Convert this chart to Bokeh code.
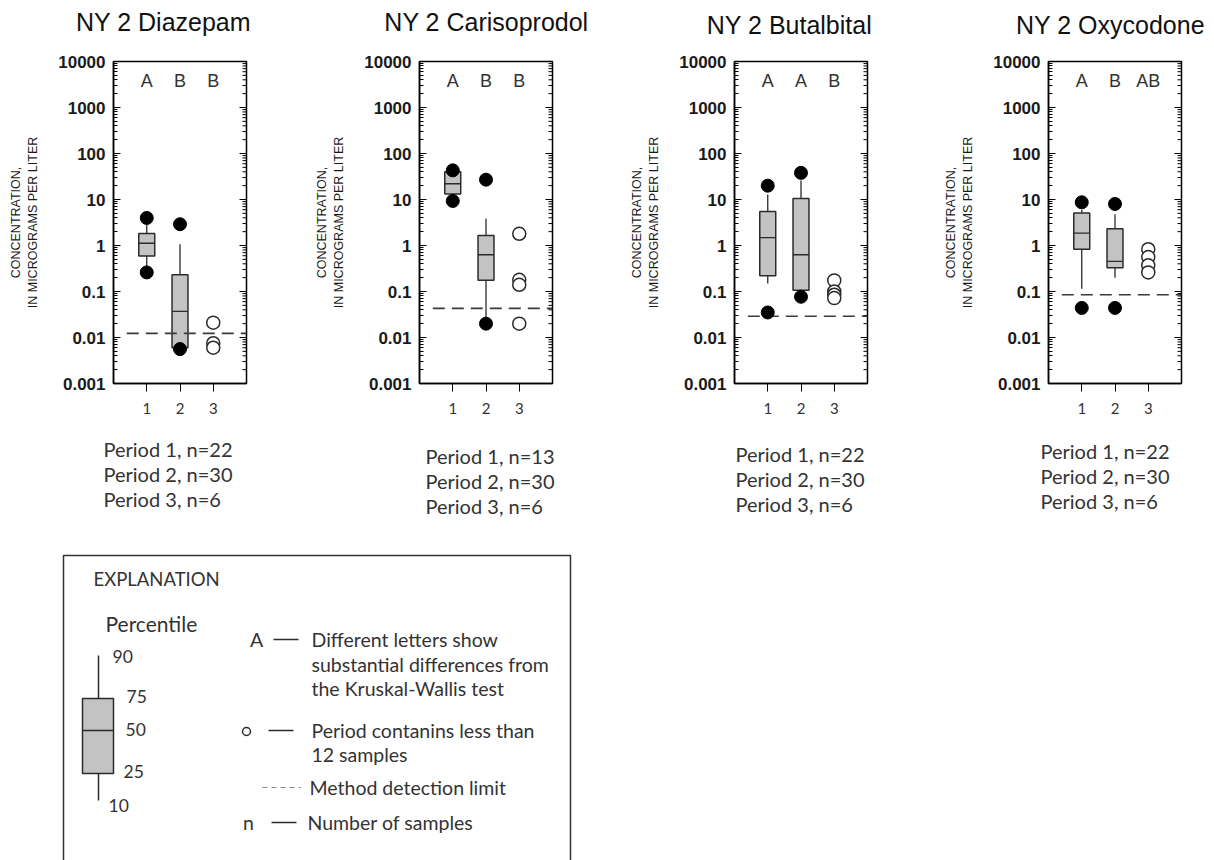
import math
from bokeh.plotting import figure
from bokeh.models import Range1d, FixedTicker
from bokeh.layouts import row, column
from bokeh.embed import file_html
from bokeh.resources import INLINE
from bokeh.core.properties import value

# ---------------------------------------------------------------- data
periods = [1, 2, 3]
titles = ["NY 2 Diazepam", "NY 2 Carisoprodol", "NY 2 Butalbital", "NY 2 Oxycodone"]
kw_letters = [["A", "B", "B"], ["A", "B", "B"], ["A", "A", "B"], ["A", "B", "AB"]]
n_samples = [[22, 30, 6], [13, 30, 6], [22, 30, 6], [22, 30, 6]]
mdl = [0.0123, 0.043, 0.029, 0.085]

# percentile statistics for periods 1 and 2
p10 = [[0.30, 0.0060], [10.5, 0.026], [0.15, 0.10], [0.115, 0.20]]
p25 = [[0.59, 0.0060], [13.2, 0.175], [0.22, 0.107], [0.83, 0.33]]
p50 = [[1.12, 0.037], [22.0, 0.63], [1.48, 0.63], [1.86, 0.45]]
p75 = [[1.82, 0.23], [40.0, 1.65], [5.5, 10.5], [5.1, 2.3]]
p90 = [[3.5, 1.07], [40.0, 3.8], [12.9, 26.0], [6.0, 4.8]]

# individual values beyond the 10th / 90th percentiles
outlier_period = [[1, 1, 2, 2], [1, 1, 2, 2], [1, 1, 2, 2], [1, 1, 2, 2]]
outlier_value = [[3.97, 0.26, 2.9, 0.0056], [43.0, 9.3, 27.0, 0.020],
                 [20.0, 0.035, 38.0, 0.077], [8.7, 0.044, 8.0, 0.044]]

# period 3 samples (fewer than 12)
period3_values = [[0.021, 0.0075, 0.006], [1.8, 0.18, 0.14, 0.020],
                  [0.174, 0.10, 0.085, 0.072], [0.83, 0.56, 0.37, 0.26]]

y_ticks = [0.001, 0.01, 0.1, 1, 10, 100, 1000, 10000]
y_tick_labels = ["0.001", "0.01", "0.1", "1", "10", "100", "1000", "10000"]

# ---------------------------------------------------------------- layout
HEAD_H = 40
ROW_H = 385
fig_w = [305, 315, 305, 289]
border_l = [113, 114, 114, 123]
border_t = [13, 17, 21, 19]
frame_h = [330, 330, 327, 328]
FRAME_W = 133
title_cx = [163, 486, 789, 1110]
title_cy = [21, 21, 24, 24]
note_x = [103, 425, 735, 1040]
note_y = [[448, 473, 498], [455, 480, 505], [453, 478, 503], [450, 475, 500]]

INK = "#2b2b2b"
BOX_FILL = "#c3c3c3"
minor = [m * 10.0 ** k for k in range(-3, 4) for m in range(2, 10)]


def make_panel(i):
    w, bl, bt, fh = fig_w[i], border_l[i], border_t[i], frame_h[i]
    br = w - bl - FRAME_W
    bb = ROW_H - bt - fh
    p = figure(width=w, height=ROW_H, x_range=Range1d(0, 4),
               y_range=Range1d(0.001, 10000), y_axis_type="log",
               output_backend="svg", toolbar_location=None,
               min_border_left=bl, min_border_right=br,
               min_border_top=bt, min_border_bottom=bb)
    p.grid.visible = False
    p.outline_line_color = "black"
    p.outline_line_width = 1.5

    ya = p.yaxis[0]
    ya.ticker = FixedTicker(ticks=y_ticks, minor_ticks=minor)
    ya.major_label_overrides = {t: s for t, s in zip(y_ticks, y_tick_labels)}
    ya.major_tick_in = 7
    ya.major_tick_out = 0
    ya.minor_tick_in = 4
    ya.minor_tick_out = 0
    ya.major_tick_line_color = "black"
    ya.minor_tick_line_color = "black"
    ya.axis_line_color = "black"
    ya.axis_line_width = 1.5
    ya.major_label_text_font = "Liberation Sans"
    ya.major_label_text_font_style = "bold"
    ya.major_label_text_font_size = "17px"
    ya.major_label_text_color = "#1a1a1a"
    ya.major_label_standoff = 8
    ya.axis_label = "CONCENTRATION,\nIN MICROGRAMS PER LITER"
    ya.axis_label_text_font = "Liberation Sans"
    ya.axis_label_text_font_style = "normal"
    ya.axis_label_text_font_size = "12.5px"
    ya.axis_label_text_color = "#1a1a1a"
    ya.axis_label_standoff = 15

    # inward tick marks along the right edge of the frame
    p.ray(x=[4] * len(y_ticks), y=y_ticks, length=7, length_units="screen",
          angle=math.pi, line_color="black", line_width=1)
    p.ray(x=[4] * len(minor), y=minor, length=4, length_units="screen",
          angle=math.pi, line_color="black", line_width=1)

    xa = p.xaxis[0]
    xa.ticker = FixedTicker(ticks=periods)
    xa.major_tick_in = 0
    xa.major_tick_out = 8
    xa.major_tick_line_color = "black"
    xa.minor_tick_line_color = None
    xa.axis_line_color = "black"
    xa.axis_line_width = 1.5
    xa.major_label_text_font = "Lato"
    xa.major_label_text_font_size = "15px"
    xa.major_label_text_color = "#333333"
    xa.major_label_standoff = 11

    xs = periods[:2]
    half = 0.24
    # whiskers
    p.segment(x0=xs, x1=xs, y0=p75[i], y1=p90[i], line_color=INK, line_width=1.3)
    p.segment(x0=xs, x1=xs, y0=p25[i], y1=p10[i], line_color=INK, line_width=1.3)
    # boxes
    p.vbar(x=xs, width=2 * half, bottom=p25[i], top=p75[i],
           fill_color=BOX_FILL, line_color=INK, line_width=1.5)
    p.segment(x0=[x - half for x in xs], x1=[x + half for x in xs],
              y0=p50[i], y1=p50[i], line_color=INK, line_width=1.3)
    # method detection limit
    p.line(x=[0.4, 4], y=[mdl[i], mdl[i]], line_color="#3a3a3a",
           line_width=1.6, line_dash="12 7")
    # values beyond the whiskers
    p.scatter(x=outlier_period[i], y=outlier_value[i], size=13,
              fill_color="black", line_color="black")
    # period 3 samples
    p.scatter(x=[3] * len(period3_values[i]), y=period3_values[i], size=13,
              fill_color="white", line_color=INK, line_width=1.5)
    # Kruskal-Wallis group letters
    p.text(x=periods, y=[3700] * 3, text=kw_letters[i], text_align="center",
           text_baseline="middle", text_font=value("Liberation Sans"),
           text_font_size="18px", text_color="#333333")
    return p


def blank(height, y_top):
    f = figure(width=1214, height=height, x_range=Range1d(0, 1214),
               y_range=Range1d(y_top + height, y_top), output_backend="svg",
               toolbar_location=None, x_axis_location=None,
               y_axis_location=None, min_border=0)
    f.grid.visible = False
    f.outline_line_color = None
    return f


# ---------------------------------------------------------------- titles
head = blank(HEAD_H, 0)
head.text(x=title_cx, y=title_cy, text=titles, text_align="center",
          text_baseline="middle", text_font=value("Liberation Sans"),
          text_font_size="25px", text_color="#111111")

panels = [make_panel(i) for i in range(4)]

# ---------------------------------------------------------------- counts + explanation
FOOT_TOP = HEAD_H + ROW_H
foot = blank(860 - FOOT_TOP, FOOT_TOP)

TXT = dict(text_font=value("Lato"), text_color="#333333", text_baseline="middle")

nx, ny, nt = [], [], []
for i in range(4):
    for k, per in enumerate(periods):
        nx.append(note_x[i])
        ny.append(note_y[i][k])
        nt.append(f"Period {per}, n={n_samples[i][k]}")
foot.text(x=nx, y=ny, text=nt, text_font_size="20px", **TXT)

foot.line(x=[63, 63, 570, 570], y=[865, 555, 555, 865], line_color="#333333",
          line_width=1.5)

# sample box
foot.segment(x0=[98, 98], x1=[98, 98], y0=[655, 773], y1=[698, 800],
             line_color=INK, line_width=1.5)
foot.quad(left=[82], right=[113], top=[698], bottom=[773],
          fill_color=BOX_FILL, line_color=INK, line_width=1.5)
foot.segment(x0=[82], x1=[113], y0=[730], y1=[730], line_color=INK, line_width=1.5)

foot.text(x=[93], y=[578], text=["EXPLANATION"], text_font_size="18.5px", **TXT)
foot.text(x=[105], y=[623], text=["Percentile"], text_font_size="21px", **TXT)
foot.text(x=[112, 126, 125, 123, 108], y=[656, 696, 729, 771, 805],
          text=["90", "75", "50", "25", "10"], text_font_size="17.5px", **TXT)

foot.text(x=[256], y=[639], text=["A"], text_align="center", text_font_size="19.5px", **TXT)
foot.text(x=[248], y=[822], text=["n"], text_align="center", text_font_size="19.5px", **TXT)
foot.scatter(x=[246], y=[731], size=8, fill_color="white", line_color=INK, line_width=1.5)
foot.segment(x0=[273, 268, 271], x1=[298, 293, 296], y0=[639, 730, 822],
             y1=[639, 730, 822], line_color=INK, line_width=1.5)
foot.line(x=[262, 300], y=[787, 787], line_color="#8a8a8a", line_width=1.2,
          line_dash="5 4")
foot.text(x=[311, 311, 311, 311, 311, 309, 307],
          y=[639, 664, 688, 730, 754, 787, 822],
          text=["Different letters show", "substantial differences from",
                "the Kruskal-Wallis test", "Period contanins less than",
                "12 samples", "Method detection limit", "Number of samples"],
          text_font_size="19.5px", **TXT)

layout = column(head, row(*panels), foot)
open("out.html", "w").write(file_html(layout, INLINE))
